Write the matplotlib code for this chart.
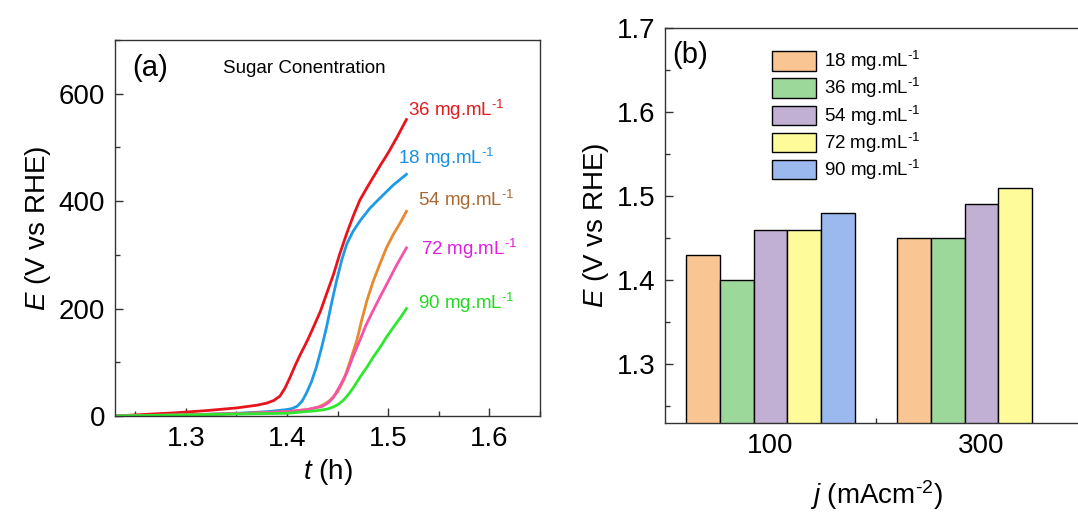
import matplotlib
matplotlib.use('Agg')
import matplotlib.pyplot as plt
from matplotlib.ticker import MultipleLocator
import numpy as np

plt.rcParams['font.family'] = ['Liberation Sans', 'DejaVu Sans']
plt.rcParams['mathtext.fontset'] = 'custom'
plt.rcParams['mathtext.rm'] = 'Liberation Sans'
plt.rcParams['mathtext.it'] = 'Liberation Sans:italic'

# ---- panel (a): E vs t for different sugar concentrations ----
red_t = [1.23, 1.26, 1.29, 1.32, 1.35, 1.37, 1.38, 1.387, 1.393, 1.398, 1.403, 1.408,
         1.413, 1.42, 1.426, 1.433, 1.439, 1.446, 1.452, 1.459, 1.466, 1.472, 1.479,
         1.485, 1.492, 1.50, 1.509, 1.518]
red_E = [0, 3, 6, 10, 15, 20, 24, 29, 37, 52, 72, 94, 114, 140, 165, 195, 227, 264,
         301, 340, 375, 402, 425, 444, 466, 490, 520, 552]

blue_t = [1.23, 1.30, 1.35, 1.38, 1.40, 1.405, 1.41, 1.415, 1.419, 1.424, 1.429, 1.434,
          1.439, 1.444, 1.449, 1.454, 1.459, 1.465, 1.472, 1.482, 1.492, 1.505, 1.518]
blue_E = [0, 2, 5, 8, 12, 14, 18, 28, 42, 63, 91, 126, 165, 210, 252, 290, 320, 343,
          363, 387, 406, 430, 450]

orange_t = [1.23, 1.30, 1.36, 1.40, 1.42, 1.43, 1.437, 1.443, 1.45, 1.456, 1.462, 1.469,
            1.474, 1.479, 1.485, 1.492, 1.498, 1.505, 1.512, 1.518]
orange_E = [0, 2, 5, 8, 12, 16, 22, 30, 45, 67, 100, 141, 180, 215, 250, 284, 312, 338,
            360, 381]

pink_t = [1.23, 1.30, 1.36, 1.40, 1.42, 1.435, 1.441, 1.446, 1.452, 1.459, 1.465, 1.472,
          1.478, 1.485, 1.492, 1.499, 1.508, 1.518]
pink_E = [0, 2, 5, 8, 12, 18, 25, 35, 55, 80, 110, 141, 169, 196, 222, 247, 280, 313]

green_t = [1.23, 1.30, 1.36, 1.40, 1.43, 1.44, 1.446, 1.451, 1.456, 1.461, 1.466, 1.472,
           1.479, 1.485, 1.492, 1.498, 1.505, 1.512, 1.518]
green_E = [0, 2, 4, 5, 10, 13, 17, 22, 30, 41, 54, 72, 91, 109, 128, 146, 165, 183, 200]

sup = r'$^{\text{-1}}$'
curve_labels = ['36 mg.mL' + sup, '18 mg.mL' + sup, '54 mg.mL' + sup,
                '72 mg.mL' + sup, '90 mg.mL' + sup]
label_pos = [(1.520, 570), (1.510, 480), (1.529, 402), (1.532, 311), (1.529, 211)]

# ---- panel (b): E at two current densities ----
current_density = ['100', '300']
conc_labels = ['18 mg.mL' + sup, '36 mg.mL' + sup, '54 mg.mL' + sup,
               '72 mg.mL' + sup, '90 mg.mL' + sup]
E_18 = [1.43, 1.45]
E_36 = [1.40, 1.45]
E_54 = [1.46, 1.49]
E_72 = [1.46, 1.51]
E_90 = [1.48, np.nan]

fig = plt.figure(figsize=(10.78, 5.17), dpi=100)
spine_col = '#333333'

ax1 = fig.add_axes([115 / 1078, 101 / 517, 425 / 1078, 376 / 517])
series = [(red_t, red_E, '#e8141c', '#e41a1c'),
          (blue_t, blue_E, '#1e9be6', '#1a90e0'),
          (orange_t, orange_E, '#e8892e', '#a86a32'),
          (pink_t, pink_E, '#f552a8', '#e01ee0'),
          (green_t, green_E, '#2ee82e', '#22d822')]
for (t, E, c, lc), lab, (lx, ly) in zip(series, curve_labels, label_pos):
    ax1.plot(t, E, color=c, lw=2)
    ax1.text(lx, ly, lab, color=lc, fontsize=13.5, ha='left', va='center')

ax1.set_xlim(1.23, 1.65)
ax1.set_ylim(0, 700)
ax1.xaxis.set_minor_locator(MultipleLocator(0.05))
ax1.yaxis.set_major_locator(MultipleLocator(200))
ax1.yaxis.set_minor_locator(MultipleLocator(100))
ax1.set_xticks([1.3, 1.4, 1.5, 1.6])
ax1.set_xticklabels(['1.3', '1.4', '1.5', '1.6'])
ax1.set_xlabel('$t$ (h)', fontsize=20, labelpad=4)
ax1.set_ylabel('$E$ (V vs RHE)', fontsize=20, labelpad=4)
ax1.text(0.04, 0.926, '(a)', transform=ax1.transAxes, fontsize=21, va='center')
ax1.text(0.254, 0.923, 'Sugar Conentration', transform=ax1.transAxes, fontsize=13.5, va='center')

ax2 = fig.add_axes([665 / 1078, 94 / 517, 422 / 1078, 395 / 517])
bar_cols = ['#f9c592', '#9dd89b', '#c2afd4', '#fdfb9a', '#9cb9ef']
x = np.arange(len(current_density))
w = 0.16
for i, (vals, col, lab) in enumerate(zip([E_18, E_36, E_54, E_72, E_90], bar_cols, conc_labels)):
    ax2.bar(x + (i - 2) * w, vals, width=w, color=col, edgecolor='black', linewidth=1,
            label=lab, zorder=2)

ax2.set_xlim(-0.5, 1.5)
ax2.set_ylim(1.23, 1.7)
ax2.set_xticks(x)
ax2.set_xticklabels(current_density)
ax2.set_xticks([0.5], minor=True)
ax2.yaxis.set_major_locator(MultipleLocator(0.1))
ax2.yaxis.set_minor_locator(MultipleLocator(0.05))
ax2.set_xlabel('$j$ (mAcm$^{\\text{-2}}$)', fontsize=20, labelpad=14)
ax2.set_ylabel('$E$ (V vs RHE)', fontsize=20, labelpad=4)
ax2.text(0.017, 0.932, '(b)', transform=ax2.transAxes, fontsize=21, va='center')
ax2.legend(loc='upper left', bbox_to_anchor=(0.232, 0.97), frameon=False, fontsize=13.5,
           borderpad=0, handlelength=2.35, handleheight=1.2, labelspacing=0.16,
           handletextpad=0.4)

for ax in (ax1, ax2):
    for s in ax.spines.values():
        s.set_color(spine_col)
        s.set_linewidth(1)
    ax.tick_params(which='both', direction='in', colors=spine_col, labelcolor='black',
                   labelsize=20, pad=7)
    ax.tick_params(which='major', length=6, width=1)
    ax.tick_params(which='minor', length=3.5, width=1)

fig.savefig('out.png', dpi=100)
